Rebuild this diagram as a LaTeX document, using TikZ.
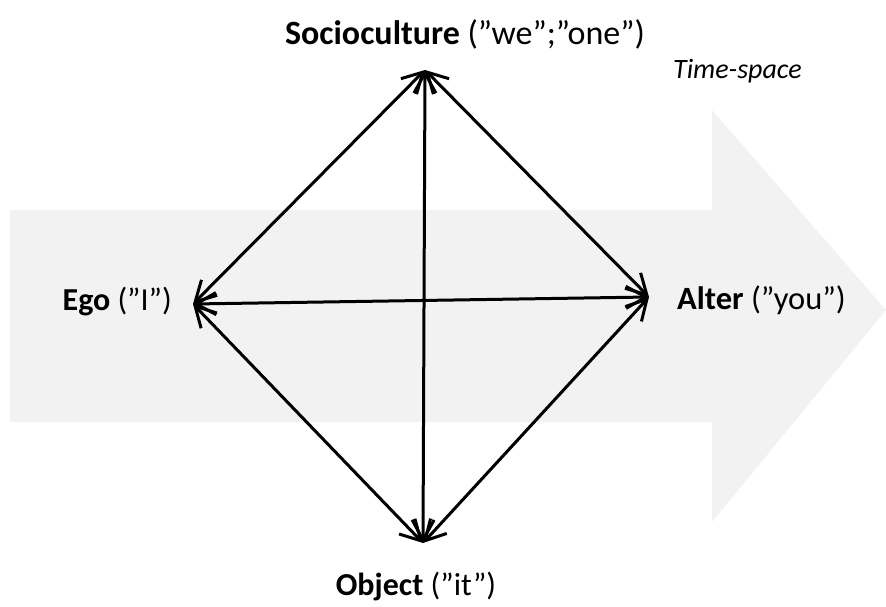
\documentclass[tikz,border=0pt]{standalone}
\usepackage{fontspec}
\setmainfont{Carlito}
\usetikzlibrary{arrows.meta}
\begin{document}
\begin{tikzpicture}[x=1pt,y=-1pt,
  tip/.tip={Straight Barb[length=20pt,width=22pt]},
  conn/.style={line width=3pt, line cap=round, line join=round, tip-tip},
  lbl/.style={font=\fontsize{32}{36}\selectfont, inner sep=0pt}]
\useasboundingbox (0,0) rectangle (886,607);
% big background arrow
\fill[fill={rgb,255:red,242;green,242;blue,242}]
  (10,210) -- (712,210) -- (712,110) -- (886,310) -- (712,522) -- (712,422) -- (10,422) -- cycle;
% apex points
\coordinate (S) at (425,70);
\coordinate (O) at (423,543);
\coordinate (E) at (193,304);
\coordinate (A) at (649,297);
% connectors
\draw[conn] (S) -- (E);
\draw[conn] (S) -- (A);
\draw[conn] (O) -- (E);
\draw[conn] (O) -- (A);
\draw[conn] (E) -- (A);
\draw[conn] (S) -- (O);
% labels
\node[lbl, font=\fontsize{34}{38}\selectfont] (tS) at (465,34) {\textbf{Socioculture} (”we”;”one”)};
\node[lbl, anchor=east] (tE) at (172,302) {\textbf{Ego} (”I”)};
\node[lbl, font=\fontsize{32.5}{36}\selectfont, anchor=west] (tA) at (677,300) {\textbf{Alter} (”you”)};
\node[lbl] (tO) at (416,586) {\textbf{Object} (”it”)};
\node[font=\fontsize{28}{32}\selectfont, inner sep=0pt, anchor=east] (tT) at (802,71) {\itshape Time-space};
\end{tikzpicture}
\end{document}
